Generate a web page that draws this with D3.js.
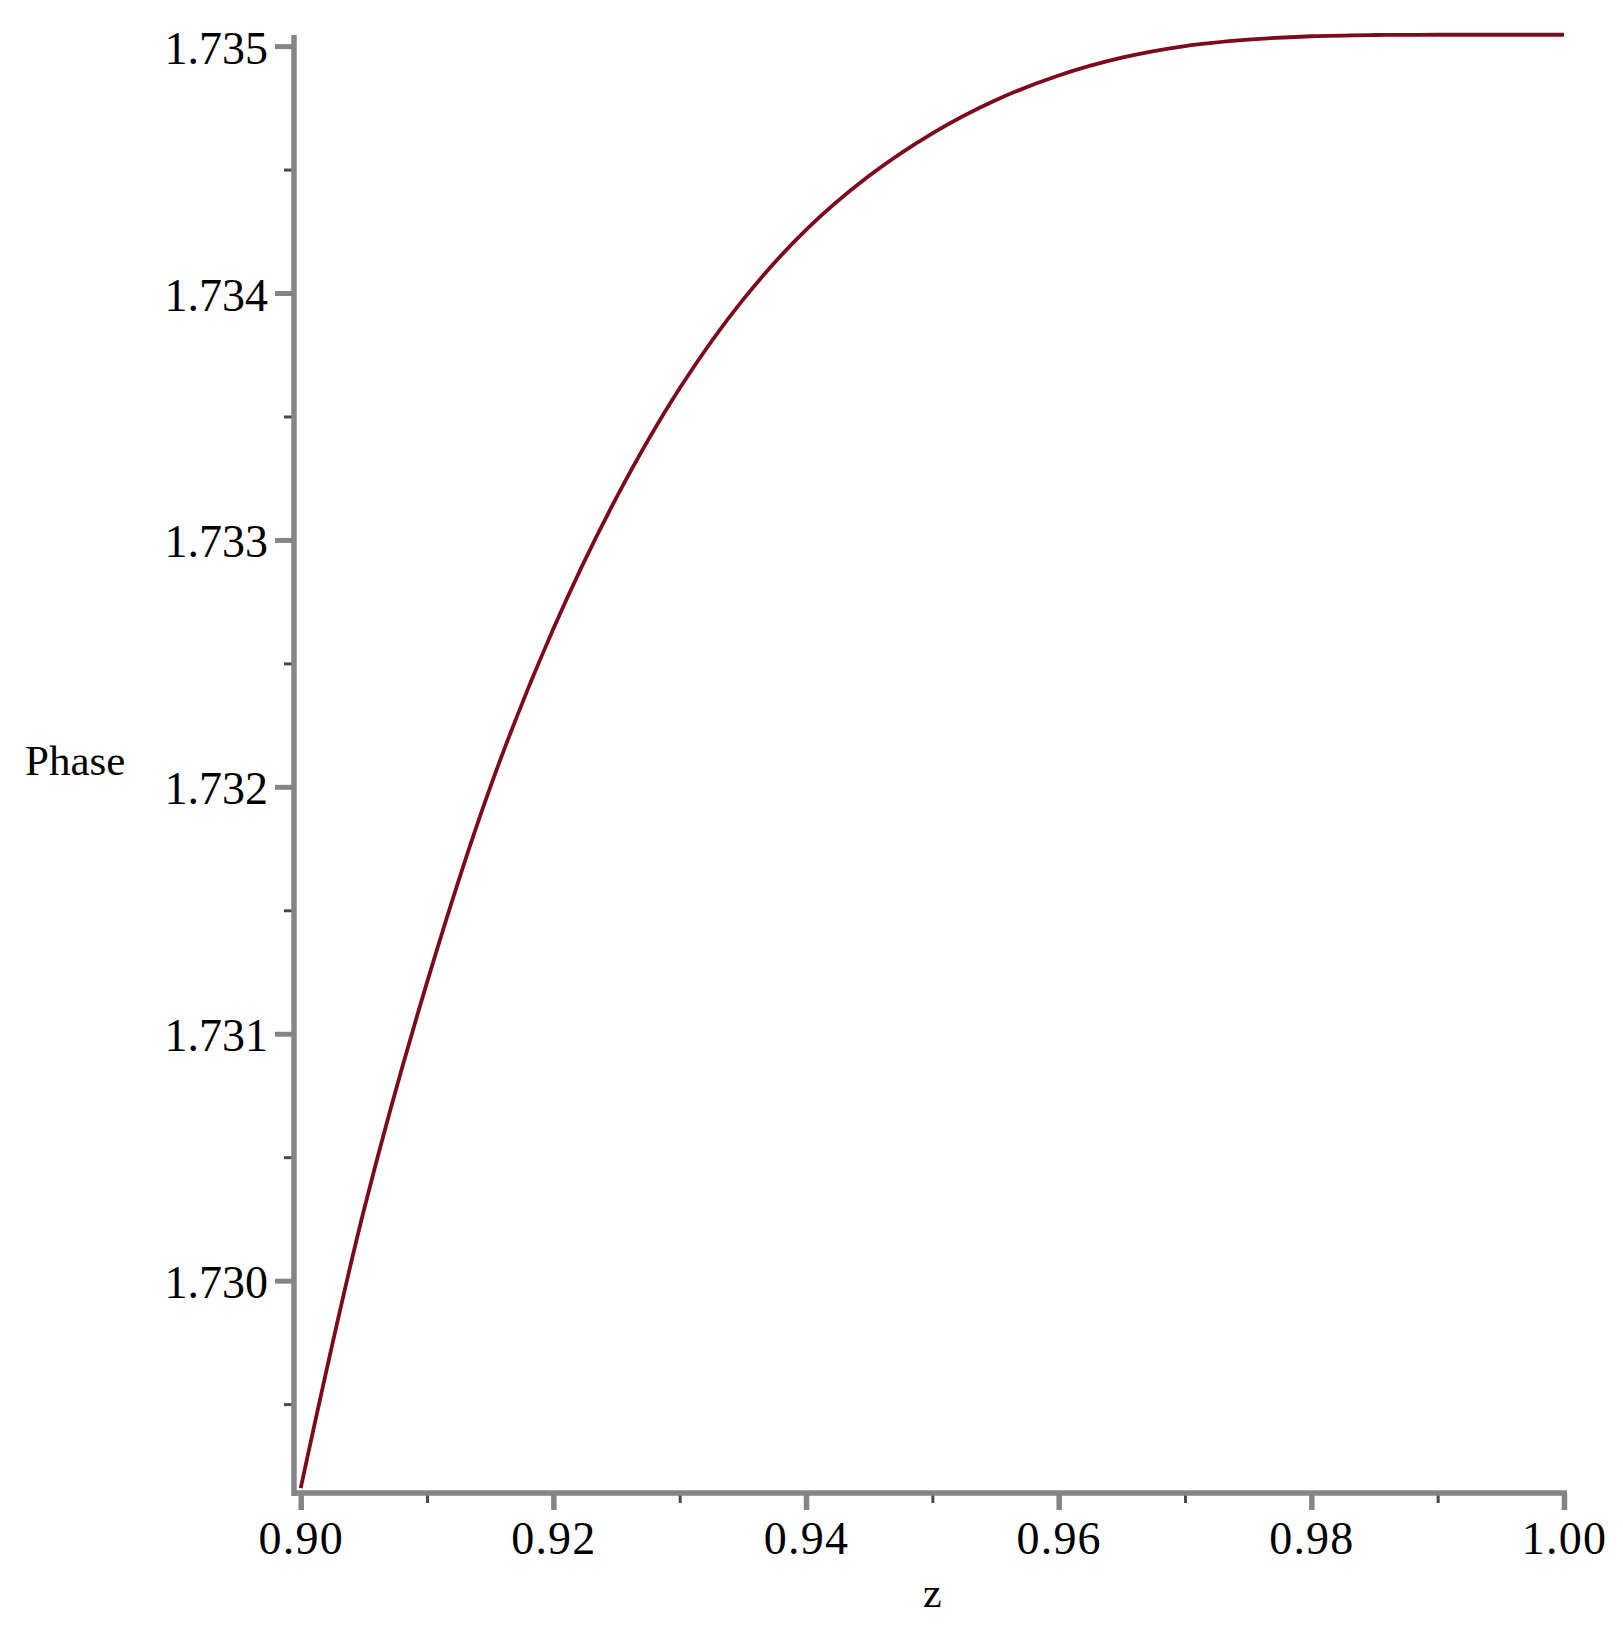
<!DOCTYPE html>
<html>
<head>
<meta charset="utf-8">
<script src="https://cdn.jsdelivr.net/npm/d3@7"></script>
<style>
  html, body { margin: 0; padding: 0; background: #fff; }
  svg { display: block; }
  text { font-family: "Liberation Serif", "DejaVu Serif", serif; fill: #000; }
</style>
</head>
<body>
<svg id="chart" width="1623" height="1629"></svg>
<script>
// ---- data ----
const zValues = [0.900, 0.905, 0.910, 0.915, 0.920, 0.925, 0.930, 0.935, 0.940,
  0.945, 0.950, 0.955, 0.960, 0.965, 0.970, 0.975, 0.980, 0.985, 0.990, 0.995, 1.000];
const phaseValues = [1.729160, 1.730285, 1.731208, 1.731998, 1.732640, 1.733172,
  1.733614, 1.733972, 1.734256, 1.734475, 1.734647, 1.734781, 1.734881,
  1.734953, 1.735000, 1.735026, 1.735040, 1.735045, 1.735046, 1.735046, 1.735046];
const xMajorTicks = [0.90, 0.92, 0.94, 0.96, 0.98, 1.00];
const xMinorTicks = [0.91, 0.93, 0.95, 0.97, 0.99];
const xTickLabels = ["0.90", "0.92", "0.94", "0.96", "0.98", "1.00"];
const yMajorTicks = [1.730, 1.731, 1.732, 1.733, 1.734, 1.735];
const yMinorTicks = [1.7295, 1.7305, 1.7315, 1.7325, 1.7335, 1.7345];
const yTickLabels = ["1.730", "1.731", "1.732", "1.733", "1.734", "1.735"];
const xDomain = [0.90, 1.00];
const yDomain = [1.72914, 1.735045];
const xLabel = "z";
const yLabel = "Phase";

(function () {
// ---- layout ----
const svg = d3.select("#chart");
const plotLeft = 300.7, plotRight = 1564, plotTop = 35, plotBottom = 1493;
const yAxisX = 294;

const x = d3.scaleLinear().domain(xDomain).range([plotLeft, plotRight]);
const y = d3.scaleLinear().domain(yDomain).range([plotBottom, plotTop]);

const axisColor = "#858585";
const minorColor = "#4a4a4a";

// y axis minor ticks
const yMinor = svg.append("g").attr("transform", `translate(${yAxisX},0)`)
  .call(d3.axisLeft(y).tickValues(yMinorTicks).tickSize(10).tickFormat(""));
yMinor.select(".domain").remove();
yMinor.selectAll("line").attr("stroke", minorColor).attr("stroke-width", 3);

// y axis major ticks
const yMajor = svg.append("g").attr("transform", `translate(${yAxisX},0)`)
  .call(d3.axisLeft(y).tickValues(yMajorTicks).tickSize(19).tickPadding(7)
    .tickFormat((d, i) => yTickLabels[i]));
yMajor.select(".domain").remove();
yMajor.selectAll("line").attr("stroke", axisColor).attr("stroke-width", 5);
yMajor.selectAll("text").attr("font-size", 46).attr("dy", "0.37em")
  .attr("font-family", "Liberation Serif").attr("fill", "#000");

// x axis minor ticks
const xMinor = svg.append("g").attr("transform", `translate(0,${plotBottom})`)
  .call(d3.axisBottom(x).tickValues(xMinorTicks).tickSize(10).tickFormat(""));
xMinor.select(".domain").remove();
xMinor.selectAll("line").attr("stroke", minorColor).attr("stroke-width", 3);

// x axis major ticks
const xMajor = svg.append("g").attr("transform", `translate(0,${plotBottom})`)
  .call(d3.axisBottom(x).tickValues(xMajorTicks).tickSize(17)
    .tickFormat((d, i) => xTickLabels[i]));
xMajor.select(".domain").remove();
xMajor.selectAll("line").attr("stroke", axisColor).attr("stroke-width", 5.5);
xMajor.selectAll("text").attr("font-size", 46).attr("y", 61).attr("dy", 0)
  .attr("font-family", "Liberation Serif").attr("fill", "#000")
  .attr("letter-spacing", 1.2);

// axis lines
svg.append("line").attr("x1", yAxisX).attr("x2", yAxisX)
  .attr("y1", plotTop).attr("y2", plotBottom + 3)
  .attr("stroke", axisColor).attr("stroke-width", 5.5);
svg.append("line").attr("x1", yAxisX - 2).attr("x2", plotRight + 3)
  .attr("y1", plotBottom).attr("y2", plotBottom)
  .attr("stroke", axisColor).attr("stroke-width", 5.5);

// curve
const line = d3.line()
  .x((d, i) => x(zValues[i]))
  .y(d => y(d))
  .curve(d3.curveCatmullRom.alpha(0.5));
svg.append("path").datum(phaseValues)
  .attr("d", line)
  .attr("fill", "none")
  .attr("stroke", "#7d0a1c")
  .attr("stroke-width", 3.8)
  .attr("stroke-linejoin", "round");

// labels
svg.append("text").attr("x", 25).attr("y", 775)
  .attr("font-size", 43).text(yLabel);
svg.append("text").attr("x", (plotLeft + plotRight) / 2).attr("y", 1607)
  .attr("text-anchor", "middle").attr("font-size", 42).text(xLabel);
})();
</script>
</body>
</html>
